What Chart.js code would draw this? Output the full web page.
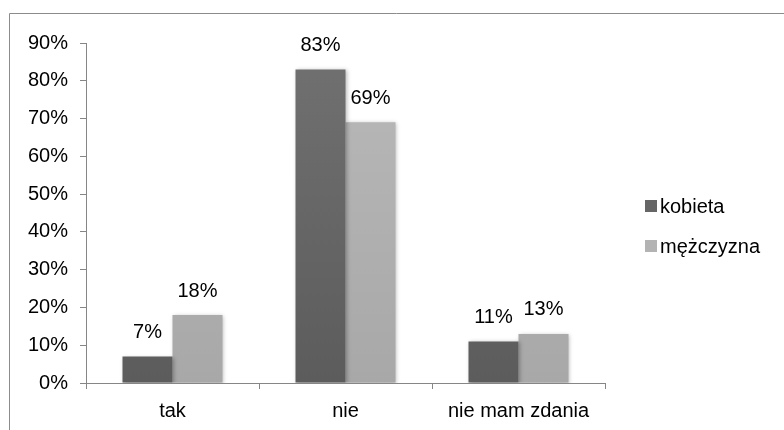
<!DOCTYPE html>
<html>
<head>
<meta charset="utf-8">
<script src="https://cdn.jsdelivr.net/npm/chart.js@4"></script>
<style>
  html, body { margin: 0; padding: 0; background: #fff; }
  #wrap { width: 784px; height: 430px; }
</style>
</head>
<body>
<div id="wrap"><canvas id="barChart" width="784" height="430"></canvas></div>
<script>
const categories = ['tak', 'nie', 'nie mam zdania'];
const seriesNames = ['kobieta', 'mężczyzna'];
const kobieta = [7, 83, 11];
const mezczyzna = [18, 69, 13];
const yTicks = [0, 10, 20, 30, 40, 50, 60, 70, 80, 90];

const FONT = '"Liberation Sans", Arial, sans-serif';
const ctx = document.getElementById('barChart').getContext('2d');

function grad(c, top, bottom) {
    const area = c.chart.chartArea;
    if (!area) return top;
    const g = c.chart.ctx.createLinearGradient(0, area.top, 0, area.bottom);
    g.addColorStop(0, top);
    g.addColorStop(1, bottom);
    return g;
}

// frame, bar shadow, value labels and legend
const decor = {
    id: 'decor',
    beforeDraw(chart) {
        const c = chart.ctx;
        c.save();
        c.strokeStyle = '#8c8c8c';
        c.lineWidth = 1;
        c.beginPath();
        c.moveTo(9.5, 430);
        c.lineTo(9.5, 13.5);
        c.lineTo(784, 13.5);
        c.stroke();
        c.restore();
    },
    beforeDatasetsDraw(chart) {
        const c = chart.ctx;
        c.save();
        c.shadowColor = 'rgba(0,0,0,0.28)';
        c.shadowBlur = 4;
        c.shadowOffsetX = 1;
        c.shadowOffsetY = 1;
    },
    afterDatasetsDraw(chart) {
        const c = chart.ctx;
        c.restore();
        c.save();
        c.font = '20px ' + FONT;
        c.fillStyle = '#000';
        c.textAlign = 'center';
        c.textBaseline = 'middle';
        chart.data.datasets.forEach((ds, i) => {
            chart.getDatasetMeta(i).data.forEach((bar, j) => {
                c.fillText(ds.data[j] + '%', bar.x, bar.y - 24);
            });
        });
        // legend
        const swatches = ['#666666', '#b3b3b3'];
        c.textAlign = 'left';
        seriesNames.forEach((name, i) => {
            const y = 206 + i * 40;
            c.fillStyle = swatches[i];
            c.fillRect(645, y - 6, 12, 12);
            c.fillStyle = '#000';
            c.fillText(name, 660, y + 1);
        });
        c.restore();
    }
};

new Chart(ctx, {
    type: 'bar',
    data: {
        labels: categories,
        datasets: [{
            label: seriesNames[0],
            data: kobieta,
            backgroundColor: c => grad(c, '#717171', '#5c5c5c'),
            barPercentage: 1,
            categoryPercentage: 0.578
        }, {
            label: seriesNames[1],
            data: mezczyzna,
            backgroundColor: c => grad(c, '#b9b9b9', '#a8a8a8'),
            barPercentage: 1,
            categoryPercentage: 0.578
        }]
    },
    options: {
        responsive: false,
        animation: false,
        layout: { padding: { top: 43, right: 179, left: 0, bottom: 0 } },
        plugins: {
            legend: { display: false },
            tooltip: { enabled: false }
        },
        scales: {
            x: {
                afterFit: s => { s.height = 47; },
                border: { color: '#868686', width: 1 },
                grid: { drawOnChartArea: false, tickLength: 6, color: '#868686' },
                ticks: { color: '#000', font: { family: FONT, size: 20 }, padding: 10 }
            },
            y: {
                min: 0,
                max: 90,
                afterFit: s => { s.width = 86; },
                afterBuildTicks: s => { s.ticks = yTicks.map(v => ({ value: v })); },
                border: { color: '#868686', width: 1 },
                grid: { drawOnChartArea: false, tickLength: 6, color: '#868686' },
                ticks: {
                    color: '#000',
                    font: { family: FONT, size: 20 },
                    padding: 12,
                    callback: v => v + '%'
                }
            }
        }
    },
    plugins: [decor]
});
</script>
</body>
</html>
